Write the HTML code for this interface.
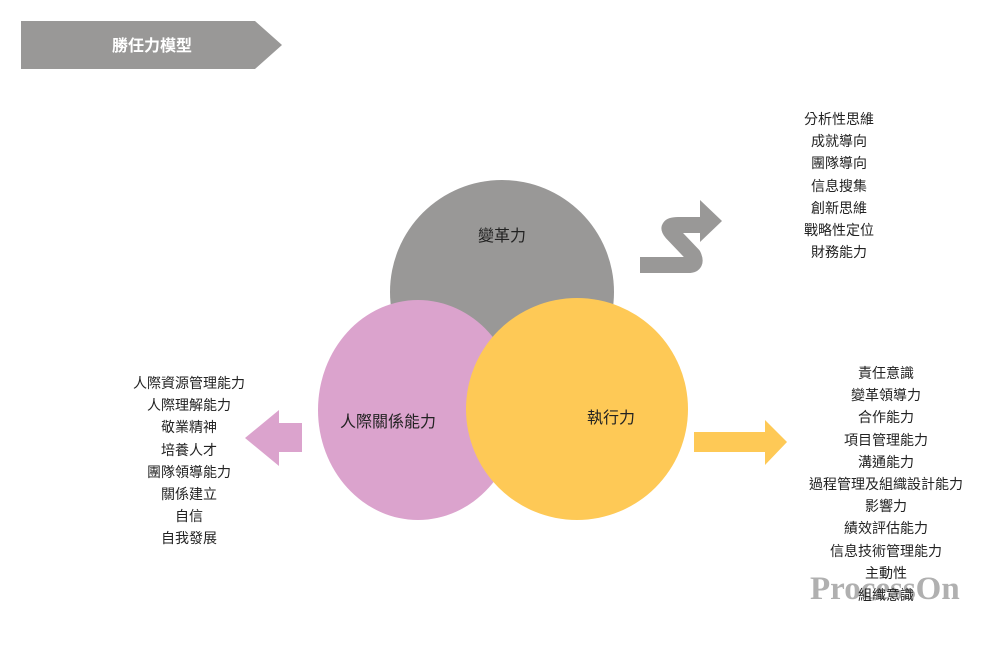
<!DOCTYPE html>
<html><head><meta charset="utf-8"><style>
html,body{margin:0;padding:0;background:#fff;width:1000px;height:651px;overflow:hidden;position:relative;font-family:"Liberation Sans","Noto Sans CJK TC",sans-serif;}
.t{position:absolute;font-size:14px;color:#222;text-align:center;white-space:nowrap;line-height:22.2px}
svg{position:absolute;left:0;top:0}
</style></head><body>
<svg width="1000" height="651">
<polygon points="21,21 255,21 282,45 255,69 21,69" fill="#999897"/>
<text x="152" y="51" fill="#fff" font-size="16" font-weight="bold" text-anchor="middle" font-family="Liberation Sans, Noto Sans CJK TC, sans-serif">勝任力模型</text>
<circle cx="502" cy="292" r="112" fill="#999897"/>
<ellipse cx="418" cy="410" rx="100" ry="110" fill="#dba3cd"/>
<circle cx="577" cy="409" r="111" fill="#fec956"/>
<path d="M640,265 L688,265 Q698,265 693,255 L672,233 Q665,225 678,225 L703,225" fill="none" stroke="#999897" stroke-width="16" stroke-linejoin="round"/>
<polygon points="700,200 722,221 700,242" fill="#999897"/>
<polygon points="302,423 279,423 279,410 245,438 279,466 279,452 302,452" fill="#dba3cd"/>
<polygon points="694,432 765,432 765,420 787,442 765,465 765,452 694,452" fill="#fec956"/>
<text x="502" y="241" font-size="16" text-anchor="middle" fill="#222" font-family="Liberation Sans, Noto Sans CJK TC, sans-serif">變革力</text>
<text x="388" y="427" font-size="16" text-anchor="middle" fill="#222" font-family="Liberation Sans, Noto Sans CJK TC, sans-serif">人際關係能力</text>
<text x="611" y="423" font-size="16" text-anchor="middle" fill="#222" font-family="Liberation Sans, Noto Sans CJK TC, sans-serif">執行力</text>
</svg>
<div class="t" style="left:779px;width:120px;top:108px">分析性思維<br>成就導向<br>團隊導向<br>信息搜集<br>創新思維<br>戰略性定位<br>財務能力</div>
<div class="t" style="left:109px;width:160px;top:372px">人際資源管理能力<br>人際理解能力<br>敬業精神<br>培養人才<br>團隊領導能力<br>關係建立<br>自信<br>自我發展</div>
<div style="position:absolute;left:810px;top:571px;font-family:'Liberation Serif',serif;font-weight:bold;font-size:33px;color:#b0b0b0">ProcessOn</div>
<div class="t" style="left:786px;width:200px;top:362px">責任意識<br>變革領導力<br>合作能力<br>項目管理能力<br>溝通能力<br>過程管理及組織設計能力<br>影響力<br>績效評估能力<br>信息技術管理能力<br>主動性<br>組織意識</div>
</body></html>
